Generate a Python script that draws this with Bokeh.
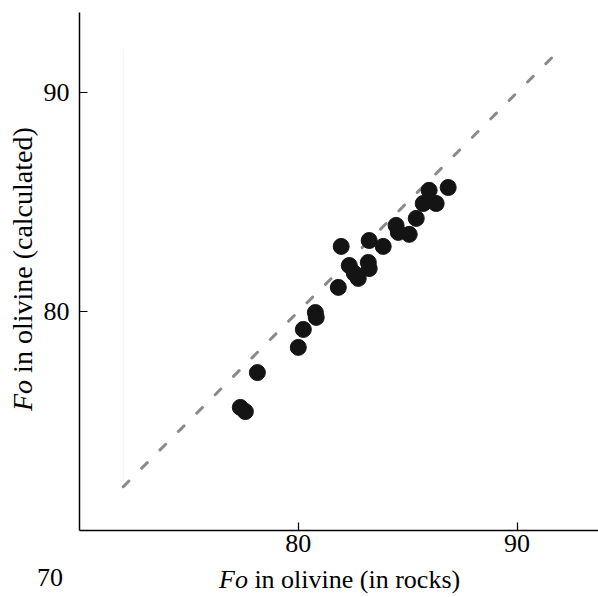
from bokeh.plotting import figure
from bokeh.models import Range1d, FixedTicker, Div
from bokeh.layouts import row, column
from bokeh.embed import file_html
from bokeh.resources import INLINE

# Data
fo_rocks = [77.35, 77.58, 78.13, 80.00, 80.23, 80.78, 80.82, 81.83, 81.96,
            82.33, 82.56, 82.74, 83.20, 83.24, 83.24, 83.88, 84.47, 84.57,
            85.07, 85.39, 85.71, 86.30, 85.98, 86.85]
fo_calc = [75.62, 75.43, 77.21, 78.36, 79.18, 79.95, 79.73, 81.10, 82.97,
           82.10, 81.74, 81.51, 82.24, 81.96, 83.24, 82.97, 83.93, 83.61,
           83.52, 84.25, 84.93, 84.93, 85.53, 85.66]
diag = [72, 92]
faint_x = [72, 72]
faint_y = [72, 92]
x_ticks = [80, 90]
y_ticks = [80, 90]
origin_label = "70"
x_title_italic = "Fo"
x_title_rest = " in olivine (in rocks)"
y_title_italic = "Fo"
y_title_rest = " in olivine (calculated)"

FONT = "Liberation Serif"

p = figure(width=558, height=566, output_backend="svg", toolbar_location=None,
           x_range=Range1d(70, 93.72), y_range=Range1d(70, 93.65),
           min_border_left=39, min_border_right=0, min_border_top=12,
           min_border_bottom=36, margin=0)
p.outline_line_color = None
p.xgrid.visible = False
p.ygrid.visible = False
p.background_fill_color = "white"
p.border_fill_color = "white"

for ax, ticks in ((p.xaxis[0], x_ticks), (p.yaxis[0], y_ticks)):
    ax.ticker = FixedTicker(ticks=ticks)
    ax.axis_line_color = "black"
    ax.axis_line_width = 1.5
    ax.major_tick_in = 8
    ax.major_tick_out = 0
    ax.major_tick_line_width = 1.2
    ax.major_tick_line_color = "black"
    ax.minor_tick_line_color = None
    ax.major_label_text_font = FONT
    ax.major_label_text_font_size = "26px"
    ax.major_label_text_color = "black"
p.xaxis[0].major_label_standoff = 4
p.yaxis[0].major_label_standoff = 10

# faint vertical artifact line
p.line(faint_x, faint_y, line_color="#f2f2f2", line_width=1)
# 1:1 dashed line
p.line(diag, diag, line_color="#8a8a8a", line_width=3, line_dash="8 18",
       line_cap="round")
# points
p.scatter(fo_rocks, fo_calc, size=16, fill_color="#141414", line_color="#141414")

base_style = ("position:relative;font-family:'Liberation Serif';"
              "line-height:1;color:black;")

ydiv = Div(width=40, height=566, margin=0, styles={"overflow": "visible"}, text=(
    f'<div style="{base_style}font-size:28px;width:40px;height:566px;">'
    '<div style="position:absolute;left:9px;top:411px;transform-origin:0 0;'
    'transform:rotate(-90deg);white-space:nowrap;">'
    f'<i>{y_title_italic}</i>{y_title_rest}</div></div>'))

xdiv = Div(width=598, height=30, margin=0, styles={"overflow": "visible"}, text=(
    f'<div style="{base_style}font-size:26px;width:598px;height:30px;">'
    f'<div style="position:absolute;left:37px;top:-1px;">{origin_label}</div>'
    '<div style="position:absolute;left:219px;top:1px;white-space:nowrap;">'
    f'<i>{x_title_italic}</i>{x_title_rest}</div></div>'))

layout = column(row(ydiv, p, spacing=0, margin=0), xdiv, spacing=0, margin=0)

open("out.html", "w").write(file_html(layout, INLINE))
